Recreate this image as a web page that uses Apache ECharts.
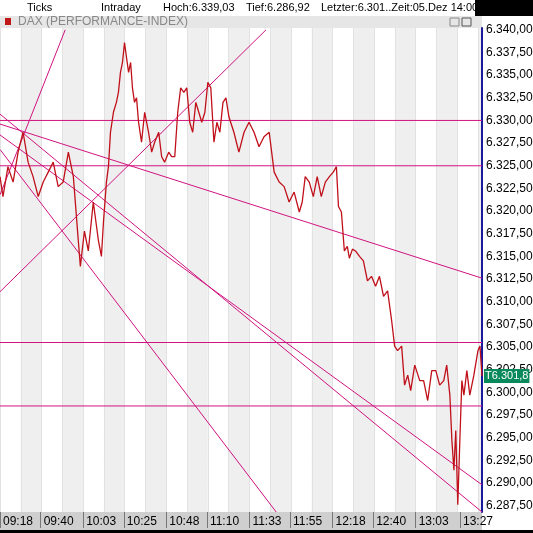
<!DOCTYPE html>
<html>
<head>
<meta charset="UTF-8">
<title>DAX Intraday</title>
<script src="https://cdn.jsdelivr.net/npm/echarts@6/dist/echarts.min.js"></script>
<style>
  html, body { margin: 0; padding: 0; background: #fff; }
  #main { width: 533px; height: 533px; }
</style>
</head>
<body>
<div id="main"></div>
<script>
// minutes after 09:18
var times = [0,1.6,4.3,7.1,9.8,12.5,15.2,17.9,20.7,23.4,26.1,28.8,31.5,34.2,37,39.7,42.4,43.5,45.7,47.8,50.5,53.3,54.9,56,57.6,58.7,59.8,61.4,63,64.1,65.2,66.3,67.4,68.5,69.6,70.7,71.7,72.8,73.9,75,76.6,78.3,80.4,82.1,83.7,85.9,87.5,89.1,91.3,92.9,94.6,96.2,97.8,99.5,101.1,102.7,104.3,106,107.6,109.2,110.9,112.5,114.1,115.8,117.4,119,120.7,122.3,123.9,126.6,129.3,132.1,134.8,137.5,140.2,142.9,145.7,148.4,151.1,153.8,156.5,159.2,162,163.6,165.2,167.4,169.6,171.7,173.9,176.1,178.3,180.4,182.1,183.2,184.8,186.4,188,189.1,190.8,192.4,194.6,196.7,198.9,201.1,203.3,205.4,207.6,209.8,212,213.6,215.2,217.4,219,220.7,222.3,224.5,227.2,229.3,231.5,233.7,235.9,238,240.2,241.8,243.5,244.6,245.7,246.7,247.8,248.9,250,251.1,252.7,254.3,256.5,258.7,259.8,260.9];
var prices = [6323.8,6321.6,6324.9,6323.2,6326.5,6328.7,6325.4,6323.8,6321.6,6323.2,6324.3,6325.4,6322.7,6323.2,6326.5,6323.8,6316.7,6313.9,6317.8,6315.6,6321.0,6316.7,6315.0,6318.8,6323.2,6324.9,6328.7,6330.9,6332.0,6333.1,6335.3,6336.4,6338.6,6336.9,6335.3,6336.4,6333.6,6332.0,6332.5,6329.8,6327.6,6330.9,6328.7,6326.5,6327.6,6328.7,6326.0,6325.4,6326.5,6326.0,6326.0,6330.9,6333.6,6333.1,6333.6,6329.8,6328.7,6332.0,6330.9,6329.8,6330.9,6334.2,6333.6,6327.6,6329.8,6328.7,6332.0,6332.5,6330.4,6328.7,6326.5,6328.7,6329.8,6328.7,6327.1,6328.2,6328.7,6324.3,6323.2,6322.7,6321.0,6322.1,6319.9,6321.0,6323.8,6323.2,6321.6,6323.8,6321.6,6323.2,6323.8,6324.3,6324.9,6320.5,6319.9,6315.6,6316.1,6314.8,6315.8,6315.6,6315.0,6314.5,6312.3,6312.8,6311.7,6312.8,6310.6,6311.2,6307.9,6305.1,6304.6,6305.1,6300.8,6301.9,6300.2,6303.0,6301.3,6301.3,6299.1,6302.4,6302.4,6300.8,6301.3,6303.0,6299.7,6294.7,6291.4,6295.8,6287.6,6294.7,6301.3,6299.7,6302.4,6299.7,6301.9,6304.6,6305.1,6301.8];

var timeTicks = [0,22,45,67,90,112,135,157,180,202,225,249];
var timeLabels = ['09:18','09:40','10:03','10:25','10:48','11:10','11:33','11:55','12:18','12:40','13:03','13:27'];
var priceTicks = [6287.5,6290,6292.5,6295,6297.5,6300,6302.5,6305,6307.5,6310,6312.5,6315,6317.5,6320,6322.5,6325,6327.5,6330,6332.5,6335,6337.5,6340];
var lastPrice = 6301.8;

// trend lines: [[t0, v0], [t1, v1]]
var trendLines = [
  [[0,6330],[260.9,6330]],
  [[0,6325],[260.9,6325]],
  [[0,6305.5],[260.9,6305.5]],
  [[0,6298.5],[260.9,6298.5]],
  [[0,6329.6],[260.9,6312.6]],
  [[0,6321.8],[35.3,6340]],
  [[0,6311.1],[144,6340]],
  [[0,6330.7],[260.9,6286.8]],
  [[0,6328.4],[260.9,6289.8]],
  [[0,6326.8],[149.5,6286.8]]
];

function fmt(v, d) {
  var s = v.toFixed(d).split('.');
  var i = s[0].replace(/\B(?=(\d{3})+(?!\d))/g, '.');
  return i + ',' + s[1];
}

var chart = echarts.init(document.getElementById('main'));
var font = 'Liberation Sans, Arial, sans-serif';

var series = [];
trendLines.forEach(function (l) {
  series.push({
    type: 'line', data: l, symbol: 'none', silent: true,
    lineStyle: { color: '#d0137f', width: 1 }, z: 3
  });
});
series.push({
  type: 'line', symbol: 'none', z: 4,
  data: times.map(function (t, i) { return [t, prices[i]]; }),
  lineStyle: { color: '#c0101a', width: 1.3 },
  markLine: {
    symbol: 'none', silent: true,
    lineStyle: { color: 'rgba(0,0,0,0)' },
    data: [{ yAxis: lastPrice }],
    label: {
      show: true, position: 'end', distance: 2, formatter: 'T' + fmt(lastPrice, 1),
      backgroundColor: '#0a8a5a', color: '#fff', fontFamily: font, fontSize: 11,
      padding: [2, 1, 1, 1]
    }
  }
});

chart.setOption({
  animation: false,
  backgroundColor: '#fff',
  grid: { left: 0, right: 51, top: 28, bottom: 21, outerBoundsMode: 'none', containLabel: false },
  graphic: [
    { type: 'rect', shape: { x: 475, y: 0, width: 58, height: 16 }, style: { fill: '#000' } },
    { type: 'rect', shape: { x: 0, y: 16, width: 482, height: 12 }, style: { fill: '#e6e6e6' } },
    { type: 'rect', shape: { x: 0, y: 512, width: 482, height: 18 }, style: { fill: '#cfcfcf' } },
    { type: 'rect', shape: { x: 0, y: 530, width: 533, height: 3 }, style: { fill: '#000' } },
    { type: 'rect', shape: { x: 5, y: 18, width: 6, height: 7 }, style: { fill: '#c01818' } },
    { type: 'rect', shape: { x: 450, y: 18, width: 9, height: 8 }, style: { fill: 'none', stroke: '#888' } },
    { type: 'rect', shape: { x: 462, y: 18, width: 9, height: 8 }, style: { fill: 'none', stroke: '#555' } },
    { type: 'text', left: 18, top: 16, style: { text: 'DAX (PERFORMANCE-INDEX)', fill: '#888', font: '12px ' + font } },
    { type: 'text', left: 27, top: 2, style: { text: 'Ticks', fill: '#000', font: '11px ' + font } },
    { type: 'text', left: 101, top: 2, style: { text: 'Intraday', fill: '#000', font: '11px ' + font } },
    { type: 'text', left: 163, top: 2, style: { text: 'Hoch:6.339,03', fill: '#000', font: '11px ' + font } },
    { type: 'text', left: 246, top: 2, style: { text: 'Tief:6.286,92', fill: '#000', font: '11px ' + font } },
    { type: 'text', left: 321, top: 2, style: { text: 'Letzter:6.301..Zeit:05.Dez 14:00', fill: '#000', font: '11px ' + font } }
  ],
  xAxis: [{
    type: 'value', min: 0, max: 260.9,
    axisLine: { show: false },
    axisTick: { show: true, customValues: timeTicks, length: 16, inside: false, lineStyle: { color: '#777' } },
    axisLabel: {
      customValues: timeTicks, align: 'left', margin: 4, padding: [0, 0, 0, 3],
      color: '#000', fontFamily: font, fontSize: 12,
      formatter: function (v) { return timeLabels[timeTicks.indexOf(v)]; }
    },
    splitLine: { show: false }
  }, {
    type: 'value', min: 0, max: 260.9, interval: 11.25, position: 'top',
    axisLine: { show: false }, axisTick: { show: false }, axisLabel: { show: false },
    splitLine: { show: true, lineStyle: { color: '#e2e2e2' } },
    splitArea: { show: true, areaStyle: { color: ['#ffffff', '#efefef'] } }
  }],
  yAxis: {
    type: 'value', position: 'right', min: 6286.8, max: 6340.2,
    axisLine: { show: true, onZero: false, lineStyle: { color: '#1a1a9a', width: 2 } },
    axisTick: { show: false, customValues: priceTicks },
    axisLabel: {
      customValues: priceTicks, margin: 4, color: '#000', fontFamily: font, fontSize: 12,
      formatter: function (v) { return fmt(v, 2); }
    },
    splitLine: { show: true, lineStyle: { color: '#dcdcdc' } }
  },
  series: series
});
</script>
</body>
</html>
